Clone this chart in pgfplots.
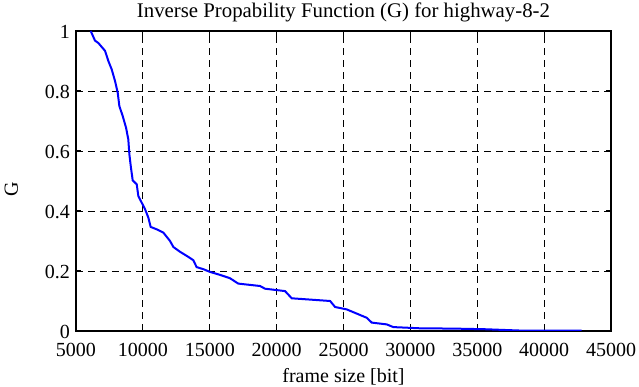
\documentclass[border=0pt]{standalone}
\usepackage{fontspec}
\setmainfont{Liberation Serif}
\usepackage{pgfplots}
\pgfplotsset{compat=1.18}
\begin{document}
\fontsize{20}{22}\selectfont
\begin{tikzpicture}
\path[use as bounding box] (-76pt,-56pt) rectangle (563pt,331pt);
\begin{axis}[
  at={(0pt,0pt)}, anchor=south west,
  scale only axis,
  width=535pt, height=300pt,
  xmin=5000, xmax=45000, ymin=0, ymax=1,
  xtick={5000,10000,...,45000},
  ytick={0,0.2,0.4,0.6,0.8,1},
  yticklabels={0,0.2,0.4,0.6,0.8,1},
  scaled x ticks=false,
  /pgf/number format/1000 sep={},
  /pgf/number format/assume math mode=true,
  tick align=inside,
  major tick length=5pt,
  axis line style={line width=1.5pt},
  tick style={line width=1pt, black},
  grid=major,
  major grid style={black, line width=0.8pt, dash pattern=on 7pt off 5pt},
  title={Inverse Propability Function (G) for highway-8-2},
  title style={at={([yshift=7pt]axis description cs:0.5,1)}, anchor=base, inner sep=0pt, font=\fontsize{20.8}{22}\selectfont},
  xlabel={frame size [bit]},
  ylabel={G},
  xlabel style={at={([yshift=-52pt]axis description cs:0.5,0)}, anchor=base, inner sep=0pt},
  ylabel style={at={([xshift=-58pt,yshift=-8pt]axis description cs:0,0.5)}, anchor=base, inner sep=0pt},
  yticklabel style={anchor=base east, inner sep=0pt, xshift=-6pt, yshift=-7.5pt},
  xticklabel style={anchor=base, inner sep=0pt, yshift=-26pt},
  tick label style={font=\fontsize{20}{22}\selectfont},
  label style={font=\fontsize{20}{22}\selectfont},
]
\addplot[blue, line width=2pt] coordinates {
(6100,1.0) (6420,0.968) (6670,0.96) (7170,0.934) (7420,0.90) (7670,0.872)
(7920,0.833) (8120,0.794) (8240,0.75) (8490,0.717) (8740,0.678) (8910,0.639)
(8990,0.589) (9110,0.544) (9240,0.502) (9540,0.489) (9660,0.45) (9910,0.428)
(10160,0.406) (10410,0.378) (10580,0.347) (11030,0.339) (11530,0.328)
(12030,0.30) (12280,0.28) (12780,0.264) (13400,0.247) (13770,0.236)
(14020,0.213) (14520,0.206) (15020,0.197) (15770,0.187) (16510,0.176)
(17130,0.158) (18760,0.15) (19130,0.141) (20630,0.133) (21130,0.109)
(24000,0.10) (24370,0.08) (25240,0.072) (25990,0.058) (26740,0.044)
(27110,0.028) (28230,0.022) (28730,0.013) (30720,0.009) (33210,0.008)
(35500,0.006) (38500,0.001) (42800,0.001)
};
\end{axis}
\end{tikzpicture}
\end{document}
